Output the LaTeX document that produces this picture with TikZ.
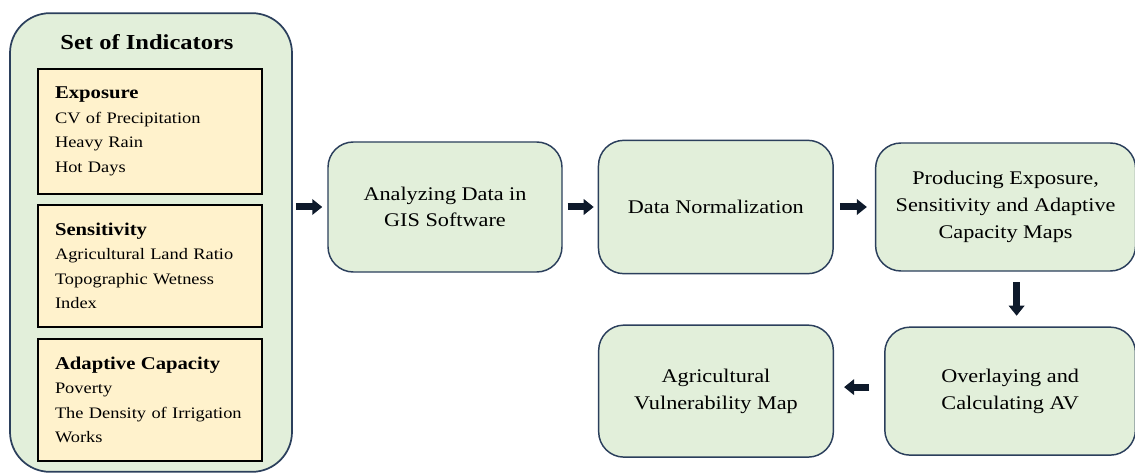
\documentclass[tikz,border=0pt]{standalone}
\usepackage{fontspec}
\setmainfont[FakeStretch=1.15]{Liberation Serif}
\usetikzlibrary{positioning,arrows.meta}

\definecolor{stagefill}{HTML}{E2EFDA}
\definecolor{stageline}{HTML}{2B3F5C}
\definecolor{itemfill}{HTML}{FFF2CC}
\definecolor{arrowink}{HTML}{0E1A2B}

\begin{document}
\begin{tikzpicture}[
    x=0.75pt, y=-0.75pt,
    stage/.style={rectangle, draw=stageline, line width=1.1pt, fill=stagefill, rounded corners=19pt, align=center, inner sep=0pt, font=\fontsize{14.5}{20}\selectfont},
    group/.style={rectangle, draw=stageline, line width=1.3pt, fill=stagefill, rounded corners=30pt, minimum width=211.5pt, minimum height=344pt},
    item/.style={rectangle, draw=black, line width=1.3pt, fill=itemfill, text width=142.5pt, inner xsep=12.75pt, align=left, font=\fontsize{12}{18.4}\selectfont},
    flow/.style={-{Triangle[width=11.5pt,length=7.5pt]}, line width=5.25pt, draw=arrowink}
]
\useasboundingbox (0,0) rectangle (1135,474);

% indicator group on the left
\node[group] (set) at (151,242.5) {};
\node[font=\bfseries\fontsize{16}{17}\selectfont] (title) at (147,42) {Set of Indicators};
\node[item, minimum height=94pt] (expo) at (150,131.5) {{\bfseries\fontsize{13.5}{18.4}\selectfont Exposure}\\CV of Precipitation\\Heavy Rain\\Hot Days};
\node[item, minimum height=91.5pt] (sens) at (150,266) {{\bfseries\fontsize{13.5}{18.4}\selectfont Sensitivity}\\Agricultural Land Ratio\\Topographic Wetness\\Index};
\node[item, minimum height=91.5pt] (adap) at (150,400) {{\bfseries\fontsize{13.5}{18.4}\selectfont Adaptive Capacity}\\Poverty\\The Density of Irrigation\\Works};

% processing steps
\node[stage, minimum width=175.5pt, minimum height=97.5pt] (ana) at (445,207) {Analyzing Data in\\GIS Software};
\node[stage, minimum width=176pt, minimum height=100pt, right=26.25pt of ana] (norm) {Data Normalization};
\node[stage, minimum width=195pt, minimum height=96pt, right=30.75pt of norm] (prod) {Producing Exposure,\\Sensitivity and Adaptive\\Capacity Maps};
\node[stage, minimum width=188pt, minimum height=96pt, below=41pt of prod, xshift=3.4pt] (over) {Overlaying and\\Calculating AV};
\node[stage, minimum width=176pt, minimum height=99pt, left=37.5pt of over] (avm) {Agricultural\\Vulnerability Map};

% arrows
\draw[flow, shorten <=2.25pt, shorten >=3.75pt] (set.east |- ana.west) -- (ana.west);
\draw[flow, shorten <=3.75pt, shorten >=3pt] (ana) -- (norm);
\draw[flow, shorten <=4.5pt, shorten >=6pt] (norm) -- (prod);
\draw[flow, shorten <=8pt, shorten >=8pt] ([xshift=8.25pt]prod.south) -- ([xshift=8.25pt]prod.south |- over.north);
\draw[flow, shorten <=11pt, shorten >=7.5pt] ([yshift=3pt]over.west) -- ([yshift=3pt]avm.east);

\end{tikzpicture}
\end{document}
